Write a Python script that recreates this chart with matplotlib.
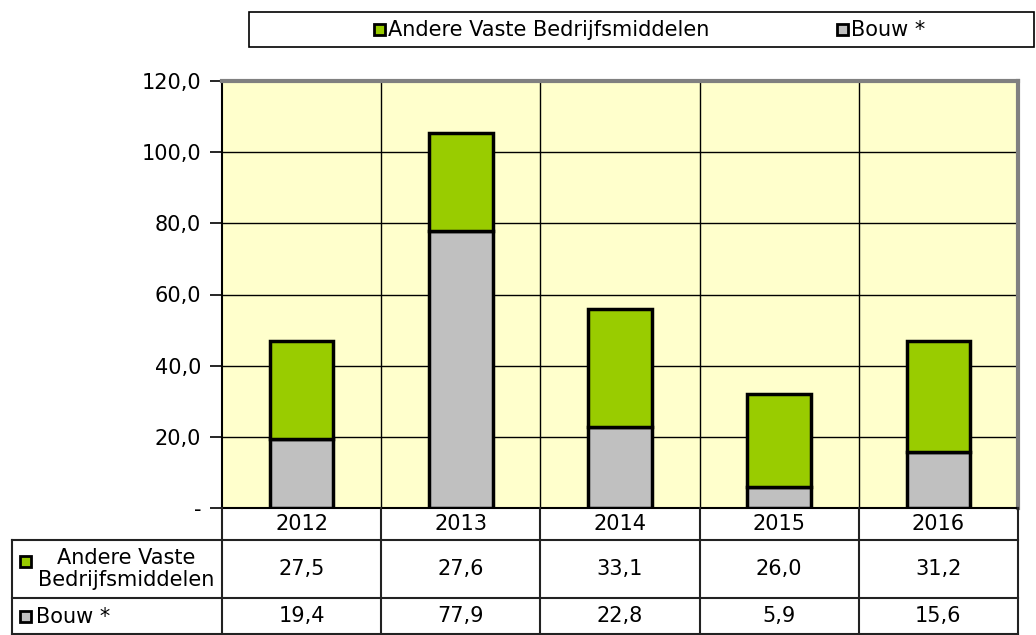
import matplotlib.pyplot as plt
from matplotlib.lines import Line2D
from matplotlib.patches import Rectangle

years = ['2012', '2013', '2014', '2015', '2016']
andere = [27.5, 27.6, 33.1, 26.0, 31.2]
bouw = [19.4, 77.9, 22.8, 5.9, 15.6]
yticks = [0, 20, 40, 60, 80, 100, 120]

green = '#99CC00'
grey = '#C0C0C0'
fs = 15

def fmt(v):
    return ('%.1f' % v).replace('.', ',')

W, H = 1036, 635
fig = plt.figure(figsize=(W / 100, H / 100), dpi=100)
L, R, T, B = 222, 1018, 81, 508
ax = fig.add_axes([L / W, 1 - B / H, (R - L) / W, (B - T) / H])
ax.set_facecolor('#FFFFCC')

x = range(len(years))
ax.bar(x, bouw, width=0.4, color=grey, edgecolor='black', linewidth=2.5, zorder=3)
ax.bar(x, andere, width=0.4, bottom=bouw, color=green, edgecolor='black', linewidth=2.5, zorder=3)

ax.set_xlim(-0.5, len(years) - 0.5)
ax.set_ylim(0, 120)
ax.set_yticks(yticks)
ax.set_yticklabels([fmt(v) if v else '-' for v in yticks], fontsize=fs)
ax.tick_params(axis='y', length=9, width=1.2, pad=6)
ax.set_xticks([])
for v in yticks[1:-1]:
    ax.axhline(v, color='black', lw=1, zorder=1)
for i in range(1, len(years)):
    ax.axvline(i - 0.5, color='black', lw=1, zorder=1)
ax.spines['top'].set_color('#808080')
ax.spines['right'].set_color('#808080')
ax.spines['top'].set_linewidth(3)
ax.spines['right'].set_linewidth(3)
ax.spines['left'].set_linewidth(1.5)
ax.spines['bottom'].set_linewidth(1.5)

# overlay in pixel coordinates for table and legend
ov = fig.add_axes([0, 0, 1, 1], zorder=5)
ov.set_xlim(0, W)
ov.set_ylim(H, 0)
ov.axis('off')
ov.patch.set_alpha(0)

cw = (R - L) / len(years)
rows = [508, 540, 598, 634]
lc = '#222222'
# horizontal lines
for y in rows[1:]:
    ov.add_line(Line2D([12, R], [y, y], color=lc, lw=1.5))
# vertical lines
for i in range(len(years) + 1):
    xx = L + i * cw
    ov.add_line(Line2D([xx, xx], [rows[0], rows[-1]], color=lc, lw=1.5))
ov.add_line(Line2D([12, 12], [rows[1], rows[-1]], color=lc, lw=1.5))

for i, yr in enumerate(years):
    cx = L + (i + 0.5) * cw
    ov.text(cx, (rows[0] + rows[1]) / 2, yr, ha='center', va='center', fontsize=fs)
    ov.text(cx, (rows[1] + rows[2]) / 2, fmt(andere[i]), ha='center', va='center', fontsize=fs)
    ov.text(cx, (rows[2] + rows[3]) / 2, fmt(bouw[i]), ha='center', va='center', fontsize=fs)

def marker(x0, y0, c):
    ov.add_patch(Rectangle((x0, y0), 11, 11, facecolor=c, edgecolor='black', lw=2))

marker(20, 556, green)
ov.text(126, 569, 'Andere Vaste\nBedrijfsmiddelen', ha='center', va='center',
        fontsize=fs, linespacing=1.15)
marker(20, 611, grey)
ov.text(36, 617, 'Bouw *', ha='left', va='center', fontsize=fs)

# legend box at top
ov.add_patch(Rectangle((249, 12), 785, 35, facecolor='white', edgecolor='black', lw=1.2))
marker(374, 24, green)
ov.text(388, 30, 'Andere Vaste Bedrijfsmiddelen', ha='left', va='center', fontsize=fs)
marker(837, 24, grey)
ov.text(851, 30, 'Bouw *', ha='left', va='center', fontsize=fs)

fig.savefig('out.png', dpi=100)
